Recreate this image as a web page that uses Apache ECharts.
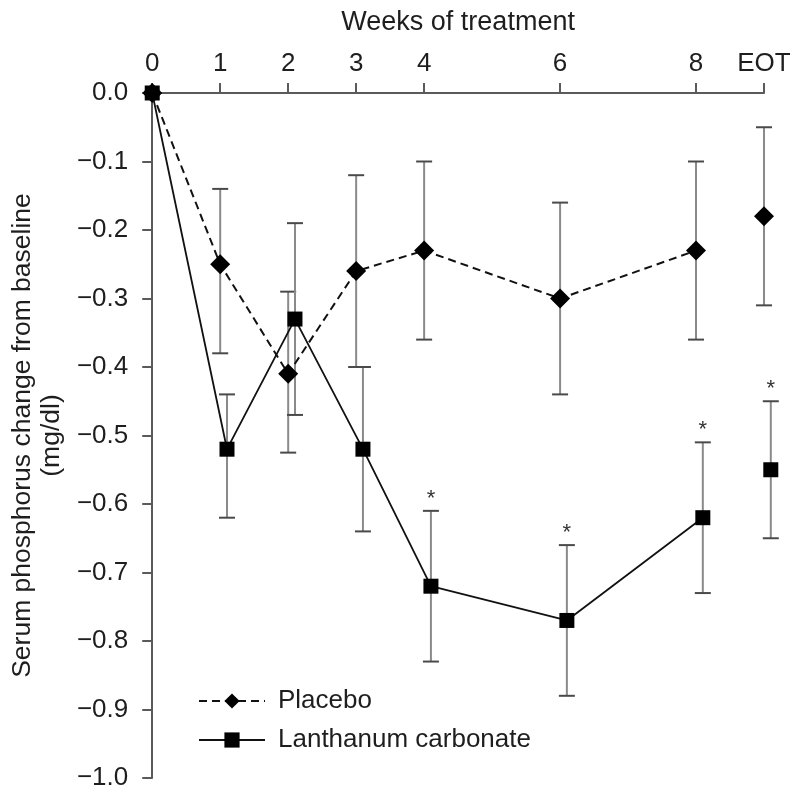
<!DOCTYPE html>
<html>
<head>
<meta charset="utf-8">
<script src="https://cdn.jsdelivr.net/npm/echarts@6/dist/echarts.min.js"></script>
<style>
  html, body { margin: 0; padding: 0; background: #fff; }
  #chart { width: 795px; height: 791px; }
</style>
</head>
<body>
<div id="chart"></div>
<script>
// weeks of treatment, 9 stands for EOT
const weeks = [0, 1, 2, 3, 4, 6, 8, 9]
const xTickValues = [0, 1, 2, 3, 4, 6, 8, 9]
const xTickLabels = ['0', '1', '2', '3', '4', '6', '8', 'EOT']

const placeboMean = [0, -0.25, -0.41, -0.26, -0.23, -0.30, -0.23, -0.18]
const placeboUpper = [null, -0.14, -0.29, -0.12, -0.10, -0.16, -0.10, -0.05]
const placeboLower = [null, -0.38, -0.525, -0.40, -0.36, -0.44, -0.36, -0.31]

const lanthanumMean = [0, -0.52, -0.33, -0.52, -0.72, -0.77, -0.62, -0.55]
const lanthanumUpper = [null, -0.44, -0.19, -0.40, -0.61, -0.66, -0.51, -0.45]
const lanthanumLower = [null, -0.62, -0.47, -0.64, -0.83, -0.88, -0.73, -0.65]
const lanthanumSignificant = [false, false, false, false, true, true, true, true]

const FONT = '"Liberation Sans", Arial, Helvetica, sans-serif'
const TEXT = '#1e1e1e'
const AXIS = '#5a5a5a'
const LAN_SHIFT = 0.1   // lanthanum points sit slightly right of the tick
const EOT_INDEX = weeks.length - 1

const placeboX = weeks
const lanthanumX = weeks.map(w => (w === 0 ? 0 : w + LAN_SHIFT))

const pairs = (xs, ys, from, to) => xs.slice(from, to).map((x, i) => [x, ys[from + i]])

const errorData = function (xs, lower, upper, sig) {
    const out = []
    xs.forEach((x, i) => {
        if (upper[i] == null) return
        out.push([x, lower[i], upper[i], sig && sig[i] ? 1 : 0])
    })
    return out
}

const renderErrorBar = function (params, api) {
    const x = api.value(0)
    const top = api.coord([x, api.value(2)])
    const bot = api.coord([x, api.value(1)])
    const half = 8
    const children = [
        { type: 'line', shape: { x1: top[0], y1: top[1], x2: bot[0], y2: bot[1] }, style: { stroke: '#8a8a8a', lineWidth: 2 } },
        { type: 'line', shape: { x1: top[0] - half, y1: top[1], x2: top[0] + half, y2: top[1] }, style: { stroke: '#4a4a4a', lineWidth: 2 } },
        { type: 'line', shape: { x1: bot[0] - half, y1: bot[1], x2: bot[0] + half, y2: bot[1] }, style: { stroke: '#4a4a4a', lineWidth: 2 } }
    ]
    if (api.value(3)) {
        children.push({
            type: 'text', x: top[0], y: top[1] - 1,
            style: { text: '*', fontSize: 22, fontFamily: FONT, fill: '#333', align: 'center', verticalAlign: 'bottom' }
        })
    }
    return { type: 'group', children: children }
}

const chartDom = document.getElementById('chart')
const chart = echarts.init(chartDom, null, { renderer: 'canvas' })

const option = {
    animation: false,
    backgroundColor: '#fff',
    textStyle: { fontFamily: FONT, color: TEXT },
    grid: { left: 152, right: 31, top: 93, bottom: 11 },
    legend: {
        data: ['Placebo', 'Lanthanum carbonate'],
        orient: 'vertical',
        left: 193,
        top: 683,
        itemGap: 13,
        itemWidth: 66,
        itemHeight: 19,
        textStyle: { fontSize: 26, color: TEXT, fontFamily: FONT, padding: [0, 0, 0, 8] }
    },
    xAxis: {
        type: 'value',
        position: 'top',
        min: 0,
        max: 9,
        name: 'Weeks of treatment',
        nameLocation: 'middle',
        nameGap: 57,
        nameTextStyle: { fontSize: 27, color: TEXT, fontFamily: FONT },
        axisLine: { show: true, lineStyle: { color: AXIS, width: 2 } },
        axisTick: { show: true, inside: false, length: 10, customValues: xTickValues, lineStyle: { color: AXIS, width: 2 } },
        axisLabel: {
            customValues: xTickValues,
            margin: 16,
            fontSize: 26,
            color: TEXT,
            fontFamily: FONT,
            formatter: v => xTickLabels[xTickValues.indexOf(v)]
        },
        splitLine: { show: false }
    },
    yAxis: {
        type: 'value',
        min: -1.0,
        max: 0,
        interval: 0.1,
        name: 'Serum phosphorus change from baseline\n(mg/dl)',
        nameLocation: 'middle',
        nameRotate: 90,
        nameGap: 82,
        nameTextStyle: { fontSize: 26.5, lineHeight: 29, color: TEXT, fontFamily: FONT, align: 'center' },
        axisLine: { show: true, lineStyle: { color: AXIS, width: 2 } },
        axisTick: { show: true, length: 10, lineStyle: { color: AXIS, width: 2 } },
        axisLabel: {
            margin: 24,
            fontSize: 26,
            color: TEXT,
            fontFamily: FONT,
            formatter: v => (v === 0 ? '0.0' : '\u2212' + Math.abs(v).toFixed(1))
        },
        splitLine: { show: false }
    },
    series: [
        {
            name: 'placebo-err',
            type: 'custom',
            renderItem: renderErrorBar,
            data: errorData(placeboX, placeboLower, placeboUpper, null),
            encode: { x: 0, y: [1, 2] },
            clip: false,
            z: 1
        },
        {
            name: 'lanthanum-err',
            type: 'custom',
            renderItem: renderErrorBar,
            data: errorData(lanthanumX, lanthanumLower, lanthanumUpper, lanthanumSignificant),
            encode: { x: 0, y: [1, 2] },
            clip: false,
            z: 1
        },
        {
            name: 'Placebo',
            type: 'line',
            data: pairs(placeboX, placeboMean, 0, EOT_INDEX),
            symbol: 'diamond',
            symbolSize: 20,
            showAllSymbol: true,
            clip: false,
            itemStyle: { color: '#000', opacity: 1 },
            lineStyle: { color: '#111', width: 2, type: [8, 5] },
            z: 3
        },
        {
            name: 'Placebo EOT',
            type: 'scatter',
            data: pairs(placeboX, placeboMean, EOT_INDEX),
            symbol: 'diamond',
            symbolSize: 20,
            clip: false,
            itemStyle: { color: '#000', opacity: 1 },
            z: 3
        },
        {
            name: 'Lanthanum carbonate',
            type: 'line',
            data: pairs(lanthanumX, lanthanumMean, 0, EOT_INDEX),
            symbol: 'rect',
            symbolSize: 15,
            showAllSymbol: true,
            clip: false,
            itemStyle: { color: '#000', opacity: 1 },
            lineStyle: { color: '#111', width: 1.8 },
            z: 4
        },
        {
            name: 'Lanthanum EOT',
            type: 'scatter',
            data: pairs(lanthanumX, lanthanumMean, EOT_INDEX),
            symbol: 'rect',
            symbolSize: 15,
            clip: false,
            itemStyle: { color: '#000', opacity: 1 },
            z: 4
        }
    ]
}

option && chart.setOption(option)
</script>
</body>
</html>
